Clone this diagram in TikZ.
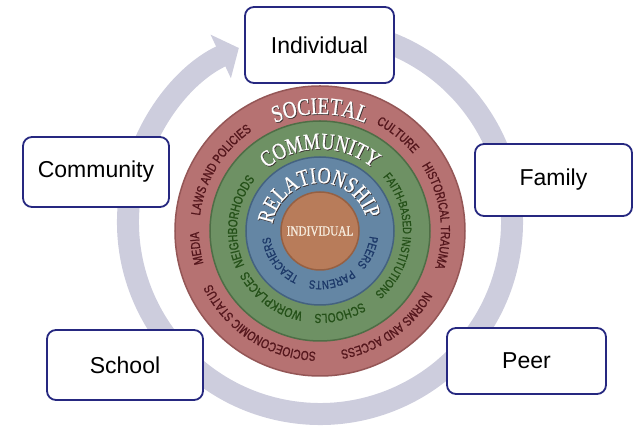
\documentclass[tikz,border=0pt]{standalone}
\usepackage{fontspec}
\setmainfont{Liberation Serif}
\setsansfont{Liberation Sans}
\newfontfamily\condserif[FakeStretch=0.8,FakeBold=0.8]{Liberation Serif}
\newfontfamily\condsans[FakeStretch=0.78,FakeBold=1.2]{Liberation Sans}
\usepackage{tikz}
\usetikzlibrary{arrows.meta,decorations.text}

\definecolor{ringgray}{RGB}{205,205,221}
\definecolor{boxblue}{RGB}{38,40,128}
\definecolor{socred}{RGB}{182,114,114}
\definecolor{socline}{RGB}{148,86,86}
\definecolor{soctext}{RGB}{84,22,28}
\definecolor{comgreen}{RGB}{110,145,100}
\definecolor{comline}{RGB}{78,110,70}
\definecolor{comtext}{RGB}{36,80,24}
\definecolor{relblue}{RGB}{100,134,164}
\definecolor{relline}{RGB}{68,98,128}
\definecolor{reltext}{RGB}{28,56,104}
\definecolor{indbrown}{RGB}{184,124,90}
\definecolor{indline}{RGB}{150,96,66}
\definecolor{indtext}{RGB}{246,236,222}
\definecolor{titleshade}{RGB}{60,50,50}

\newcommand{\ringtitle}[1]{\condserif\fontsize{#1}{#1}\selectfont}
\newcommand{\ringlabel}[1]{\condsans\fontsize{#1}{#1}\selectfont}

\begin{document}
\begin{tikzpicture}[x=1pt,y=1pt]
	\tikzstyle{every node}+=[inner sep=0pt]
	\tikzstyle{box}=[draw=boxblue, line width=1.8pt, fill=white, rounded corners=9pt, font=\sffamily\fontsize{23}{27}\selectfont]
	\tikzstyle{ringtext}=[decorate, decoration={text along path, text align=center}]
	\useasboundingbox (-320,-196) rectangle (314,231);
	\draw [ringgray, line width=22pt, -{Triangle[length=20pt,width=47pt]}] (0,9) ++(80:192) arc (80:-245:192);
	\draw [socline, line width=1.5pt, fill=socred] (0,0) circle (145);
	\draw [comline, line width=1.5pt, fill=comgreen] (0,0) circle (110);
	\draw [relline, line width=1.5pt, fill=relblue] (0,0) circle (74);
	\draw [indline, line width=1.5pt, fill=indbrown] (0,0) circle (39);
	\path [ringtext, shift={(0.8,-0.8)}, decoration={text color=titleshade, text={|\ringtitle{24}|SOCIETAL}}] (150:117) arc (150:30:117);
	\path [ringtext, decoration={text color=white, text={|\ringtitle{24}|SOCIETAL}}] (150:117) arc (150:30:117);
	\path [ringtext, shift={(0.8,-0.8)}, decoration={text color=titleshade, text={|\ringtitle{23}|COMMUNITY}}] (170:82) arc (170:10:82);
	\path [ringtext, decoration={text color=white, text={|\ringtitle{23}|COMMUNITY}}] (170:82) arc (170:10:82);
	\path [ringtext, shift={(0.8,-0.8)}, decoration={text color=titleshade, text={|\ringtitle{23}|RELATIONSHIP}}] (183:48) arc (183:3:48);
	\path [ringtext, decoration={text color=white, text={|\ringtitle{23}|RELATIONSHIP}}] (183:48) arc (183:3:48);
	\draw (0,0) node [font=\condserif\fontsize{14}{15}\selectfont, text=indtext] (core) {INDIVIDUAL};
	\path [ringtext, decoration={text color=soctext, text={|\ringlabel{13}|CULTURE}}] (81:121) arc (81:21:121);
	\path [ringtext, decoration={text color=soctext, text={|\ringlabel{13}|HISTORICAL TRAUMA}}] (60:121) arc (60:-45:121);
	\path [ringtext, decoration={text color=soctext, text={|\ringlabel{13}|NORMS AND ACCESS}}] (0:121) arc (0:-110:121);
	\path [ringtext, decoration={text color=soctext, text={|\ringlabel{13}|SOCIOECONOMIC STATUS}}] (-70:121) arc (-70:-176:121);
	\path [ringtext, decoration={text color=soctext, text={|\ringlabel{13}|MEDIA}}] (213:121) arc (213:163:121);
	\path [ringtext, decoration={text color=soctext, text={|\ringlabel{13}|LAWS AND POLICIES}}] (200:121) arc (200:97:121);
	\path [ringtext, decoration={text color=comtext, text={|\ringlabel{13}|NEIGHBORHOODS}}] (230:83) arc (230:116:83);
	\path [ringtext, decoration={text color=comtext, text={|\ringlabel{12}|FAITH-BASED INSTITUTIONS}}] (60:83) arc (60:-68:83);
	\path [ringtext, decoration={text color=comtext, text={|\ringlabel{13}|SCHOOLS}}] (-40:83) arc (-40:-113:83);
	\path [ringtext, decoration={text color=comtext, text={|\ringlabel{13}|WORKPLACES}}] (-90:83) arc (-90:-163:83);
	\path [ringtext, decoration={text color=reltext, text={|\ringlabel{12}|PEERS}}] (20:50) arc (20:-68:50);
	\path [ringtext, decoration={text color=reltext, text={|\ringlabel{12}|PARENTS}}] (-26:50) arc (-26:-127:50);
	\path [ringtext, decoration={text color=reltext, text={|\ringlabel{12}|TEACHERS}}] (-100:50) arc (-100:-188:50);
	\draw (-0.5,186) node [box, minimum width=149pt, minimum height=76pt] (indiv) {Individual};
	\draw (-224,59) node [box, minimum width=146pt, minimum height=70pt] (commu) {Community};
	\draw (233.5,51) node [box, minimum width=157pt, minimum height=72pt] (family) {Family};
	\draw (-195,-134) node [box, minimum width=156pt, minimum height=70pt] (school) {School};
	\draw (206.5,-130) node [box, minimum width=159pt, minimum height=66pt] (peer) {Peer};
\end{tikzpicture}
\end{document}
